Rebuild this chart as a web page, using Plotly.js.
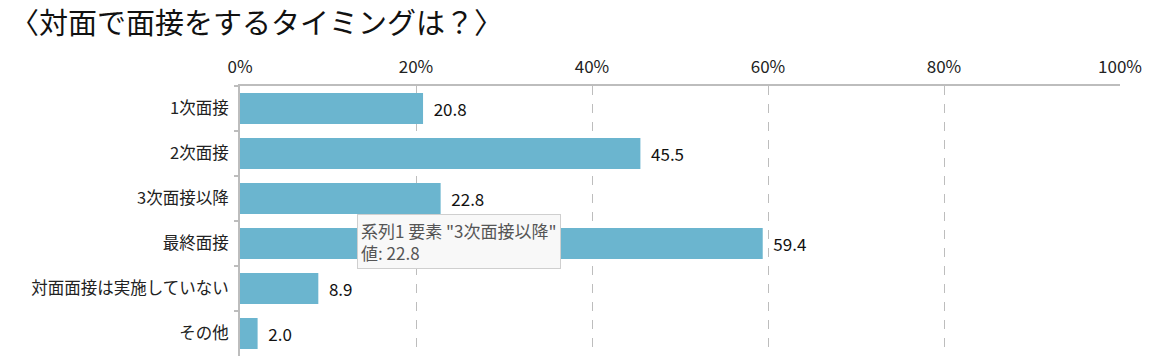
<!DOCTYPE html>
<html><head><meta charset="utf-8">
<script src="https://cdn.plot.ly/plotly-3.0.1.min.js"></script>
<style>html,body{margin:0;padding:0;background:#fff;}#chart{width:1165px;height:363px;}</style>
</head><body><div id="chart"></div>
<script>
const chartTitle = '〈対面で面接をするタイミングは？〉';
const categories = ['1次面接', '2次面接', '3次面接以降', '最終面接', '対面面接は実施していない', 'その他'];
const values = [20.8, 45.5, 22.8, 59.4, 8.9, 2.0];
const tickValues = [0, 20, 40, 60, 80, 100];
const tickLabels = ['0%', '20%', '40%', '60%', '80%', '100%'];
const tooltipText = '系列1 要素 "3次面接以降"<br>値: 22.8';

const font = '"Noto Sans CJK JP", "Noto Sans", sans-serif';

const trace = {
  type: 'bar', orientation: 'h',
  y: categories, x: values,
  marker: {color: '#6BB5CF'},
  text: values.map(v => '  ' + v.toFixed(1)),
  textposition: 'outside',
  textfont: {family: font, size: 17, color: '#111'},
  cliponaxis: false,
  hoverinfo: 'none'
};

const layout = {
  width: 1165, height: 363,
  margin: {l: 240, r: 45, t: 86, b: 7},
  paper_bgcolor: '#fff', plot_bgcolor: '#fff',
  showlegend: false,
  bargap: 0.31,
  title: {text: chartTitle, x: 10/1165, xanchor: 'left', xref: 'container', y: 0.935, yanchor: 'middle',
          font: {family: font, size: 29, color: '#111'}},
  xaxis: {
    side: 'top', range: [0, 100], tickmode: 'array', tickvals: tickValues, ticktext: tickLabels,
    showgrid: true, gridcolor: '#bdbdbd', griddash: 'dash', gridwidth: 1,
    showline: true, linecolor: '#bdbdbd', linewidth: 2, mirror: false,
    zeroline: false, ticks: '', ticklabelstandoff: 4,
    tickfont: {family: font, size: 17, color: '#222'}
  },
  yaxis: {
    autorange: 'reversed', showline: true, linecolor: '#bdbdbd', linewidth: 2,
    ticks: 'outside', tickson: 'boundaries', ticklen: 4, tickcolor: '#bdbdbd', tickwidth: 2,
    showgrid: false, zeroline: false, ticklabelstandoff: 6,
    tickfont: {family: font, size: 16.5, color: '#222'}
  },
  annotations: [{
    text: tooltipText, xref: 'x', yref: 'paper', x: 13.3, y: 0.527,
    xanchor: 'left', yanchor: 'top', align: 'left', showarrow: false,
    font: {family: font, size: 17, color: '#555'},
    bgcolor: '#f8f8f8', bordercolor: '#cfcfcf', borderwidth: 1, borderpad: 3
  }]
};

Plotly.newPlot('chart', [trace], layout, {displayModeBar: false, staticPlot: true});
</script></body></html>
